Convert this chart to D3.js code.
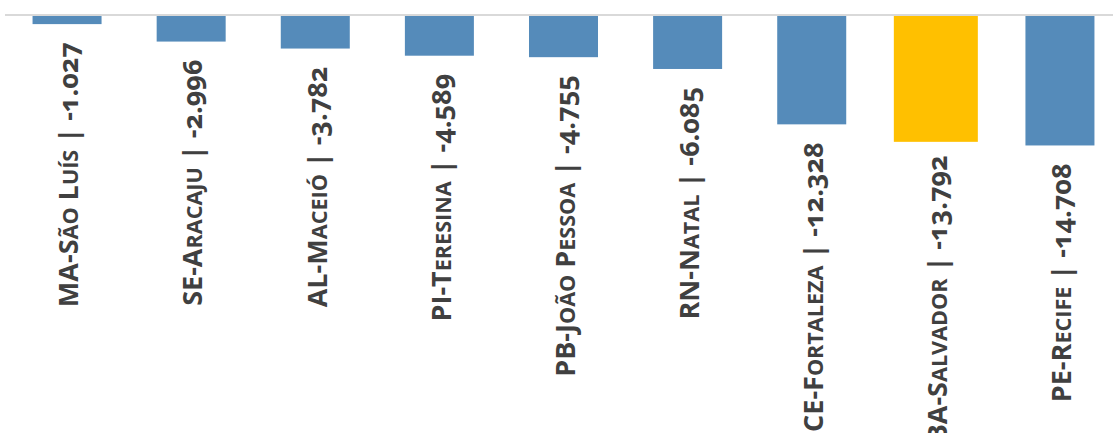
<!DOCTYPE html>
<html><head><meta charset="utf-8">
<script src="https://cdn.jsdelivr.net/npm/d3@7"></script>
<style>
body{margin:0;background:#fff;}
svg{display:block;}
.lbl{font-family:"Open Sans",sans-serif;font-weight:700;font-size:27px;fill:#404040;font-variant-numeric:oldstyle-nums;}
</style></head>
<body>
<script>
const cities = ["MA-São Luís","SE-Aracaju","AL-Maceió","PI-Teresina","PB-João Pessoa","RN-Natal","CE-Fortaleza","BA-Salvador","PE-Recife"];
const values = [-1.027,-2.996,-3.782,-4.589,-4.755,-6.085,-12.328,-13.792,-14.708];
const valueLabels = ["-1.027","-2.996","-3.782","-4.589","-4.755","-6.085","-12.328","-13.792","-14.708"];
const highlighted = ["BA-Salvador"];

const W=1113,H=433;
const svg=d3.select("body").append("svg").attr("width",W).attr("height",H);
const x=d3.scaleBand().domain(cities).range([5,1122]).paddingInner(0.444).paddingOuter(0.222);
const y=d3.scaleLinear().domain([0,-16]).range([15,15+16*8.87]);

const data=cities.map((c,i)=>({c,v:values[i],t:valueLabels[i],hl:highlighted.includes(c)}));

svg.selectAll("rect.bar").data(data).join("rect").attr("class","bar")
 .attr("x",d=>x(d.c)-(d.hl?7.5:0))
 .attr("width",d=>x.bandwidth()+(d.hl?15:0))
 .attr("y",d=>y(0)+(d.hl?-1:1))
 .attr("height",d=>y(d.v)-y(0)+(d.hl?5.5:-1))
 .attr("fill",d=>d.hl?"#FFC000":"#558BBA");

svg.append("line").attr("x1",5).attr("x2",W).attr("y1",y(0)).attr("y2",y(0))
 .attr("stroke","#D9D9D9").attr("stroke-width",2);

// split a string into runs of lowercase (rendered as small caps) and others
function runs(s){
  const out=[];let cur=null;
  for(const ch of s){
    const low = ch!==ch.toUpperCase();
    if(!cur||cur.low!==low){cur={low,t:""};out.push(cur);}
    cur.t+=ch;
  }
  return out;
}

const texts=svg.selectAll("text.lbl").data(data).join("text").attr("class","lbl")
 .attr("transform",d=>`translate(${x(d.c)+x.bandwidth()/2+1.5},${y(d.v)+18}) rotate(-90)`)
 .attr("text-anchor","end").attr("dy","0.36em");
texts.each(function(d){
  const t=d3.select(this);
  runs(`${d.c} | ${d.t}`).forEach(r=>{
    t.append("tspan").attr("font-size",r.low?"0.8em":null).text(r.low?r.t.toUpperCase():r.t);
  });
});
</script>
</body></html>
